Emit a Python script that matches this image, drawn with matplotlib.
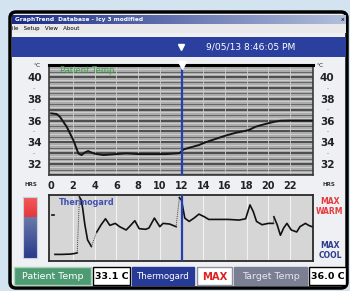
import numpy as np
import matplotlib
matplotlib.use('Agg')
import matplotlib.pyplot as plt
from matplotlib.patches import Rectangle, FancyBboxPatch

# ---------------- data ----------------
hour_ticks = [0, 2, 4, 6, 8, 10, 12, 14, 16, 18, 20, 22]
temp_ticks = [32, 34, 36, 38, 40]
temp_minor = [33, 35, 37, 39]

patient_h = [0.0, 0.5, 0.8, 1.43, 2.04, 2.5, 2.8, 3.1, 3.4, 3.9, 4.8, 6.0, 6.9, 8.1,
             9.3, 10.55, 11.8, 12.2, 12.7, 13.6, 14.2, 15.1, 16.0, 17.0, 18.2, 18.8,
             19.7, 20.6, 21.1, 21.9, 23.65, 24.0]
patient_t = [36.66, 36.6, 36.35, 35.43, 34.2, 32.98, 32.83, 33.07, 33.2, 32.98, 32.83,
             32.92, 32.98, 32.92, 32.92, 32.92, 33.0, 33.35, 33.5, 33.75, 34.0, 34.3,
             34.6, 34.88, 35.13, 35.43, 35.68, 35.9, 35.98, 36.0, 36.0, 36.0]

# Thermogard output (0 = max cool, 100 = max warm), solid segments
tg_seg_h = [
    [0.1, 0.3],
    [0.35, 1.0, 1.8, 2.2, 2.4],
    [2.6, 2.75, 2.9, 3.1, 3.35, 3.7],
    [4.2, 4.6, 5.0, 5.4, 5.9, 6.3, 6.9, 7.2, 7.7, 8.1, 8.7, 9.0, 9.5, 10.0, 10.3, 10.9, 11.5],
    [11.8, 12.0, 12.3, 12.7, 13.15, 13.6, 14.1, 14.5, 15.4, 16.3, 17.3, 17.9, 18.3, 18.6,
     18.9, 19.4, 20.0, 20.45],
    [20.5, 20.8, 21.1, 21.4, 21.7, 22.1, 22.6, 22.9, 23.4, 23.7, 24.0],
]
tg_seg_v = [
    [70, 70],
    [10, 10, 10.5, 11.5, 12.5],
    [97, 93, 80, 55, 32, 22],
    [44, 55, 64, 54, 57, 52, 47, 52, 61, 49, 48, 50, 65, 52, 57, 56, 52],
    [96, 92, 65, 60, 65, 71, 67, 63, 63, 63, 62, 64, 85, 75, 60, 55, 57, 57],
    [67, 55, 39, 50, 57, 47, 44, 52, 57, 54, 52],
]
marker_hour = 12
status_labels = ["Patient Temp", "33.1 C", "Thermogard", "MAX", "Target Temp", "36.0 C"]
date_text = "9/05/13 8:46:05 PM"

# ---------------- layout helpers ----------------
W, H = 350, 291
def rect(x0, y0, x1, y1):
    return [x0 / W, 1 - y1 / H, (x1 - x0) / W, (y1 - y0) / H]

fig = plt.figure(figsize=(W / 100, H / 100), dpi=100)
bg = fig.add_axes([0, 0, 1, 1])
bg.axis('off')

# outer desktop background
bg.add_patch(Rectangle((0, 0), W, H, fc='#d3e3f0', ec='none'))
# window
bg.add_patch(FancyBboxPatch((10, 12), 337, 276, boxstyle="round,pad=0,rounding_size=6",
                            fc='#eef0f4', ec='black', lw=2.5))
# title bar gradient
grad = np.linspace(0, 1, 200)
c0 = np.array([0.10, 0.17, 0.52]); c1 = np.array([0.70, 0.75, 0.86])
tb = (c0[None, :] * (1 - grad[:, None]) + c1[None, :] * grad[:, None])[None, :, :]
bg.imshow(tb, extent=(12, 346, 24, 15), aspect='auto', zorder=2)
bg.text(15, 19.5, "GraphTrend  Database - Icy 3 modified", color='white', fontsize=4.2,
        fontweight='bold', va='center', ha='left', zorder=3)
bg.text(343, 19.5, "x", color='black', fontsize=4.5, va='center', ha='center', zorder=3)
# menu bar
bg.add_patch(Rectangle((12, 24), 334, 9, fc='#e9e9ec', ec='none', zorder=2))
bg.text(12, 28.5, "ile   Setup   View   About", color='black', fontsize=4, va='center',
        ha='left', zorder=3)
# header bar
bg.add_patch(Rectangle((12, 37), 334, 20, fc='#2b3f9e', ec='none', zorder=2))
bg.plot([181], [47], marker='v', ms=5, color='white', zorder=3)
bg.text(251, 47, date_text, color='white', fontsize=6.6, va='center', ha='center', zorder=3)

# color bar (warm/cool)
n = 61
cb = np.zeros((n, 1, 3))
for i in range(n):
    if i < 20:
        t = i / 19
        cb[i, 0] = np.array([0.95, 0.35, 0.35]) * (1 - t) + np.array([0.90, 0.22, 0.24]) * t
    else:
        t = (i - 20) / (n - 21)
        cb[i, 0] = np.array([0.42, 0.47, 0.66]) * (1 - t) + np.array([0.16, 0.23, 0.55]) * t
bg.imshow(cb, extent=(23, 37, 258, 197), aspect='auto', zorder=2)
bg.add_patch(Rectangle((23, 197), 14, 61, fc='none', ec='#c8d0dc', lw=0.8, zorder=3))

# text around plots
bg.text(37, 65.5, "°C", fontsize=4.2, ha='center', va='center', color='#222222')
bg.text(320, 65.5, "°C", fontsize=4.2, ha='center', va='center', color='#222222')
bg.text(31, 184.5, "HRS", fontsize=4, fontweight='bold', ha='center', va='center', color='#333333')
bg.text(329, 184.5, "HRS", fontsize=4, fontweight='bold', ha='center', va='center', color='#333333')
bg.text(330, 202, "MAX", fontsize=5.5, fontweight='bold', ha='center', va='center', color='#e83a3a')
bg.text(330, 212, "WARM", fontsize=5.5, fontweight='bold', ha='center', va='center', color='#e83a3a')
bg.text(330, 246, "MAX", fontsize=5.5, fontweight='bold', ha='center', va='center', color='#2f3d8c')
bg.text(330, 256, "COOL", fontsize=5.5, fontweight='bold', ha='center', va='center', color='#2f3d8c')

# status bar
boxes = [(14, 91, '#4e9a72', 'white', 'normal', 6.8, '#a8d4b8'),
         (93, 130, 'white', 'black', 'bold', 6.8, 'black'),
         (132, 194, '#263a96', 'white', 'normal', 6.2, '#263a96'),
         (197, 232, 'white', '#e02020', 'bold', 7.2, '#9090a0'),
         (234, 307, '#7a7f93', '#e6e8ee', 'normal', 6.8, '#7a7f93'),
         (309, 346, 'white', 'black', 'bold', 6.8, 'black')]
for (x0, x1, fc, tc, fw, fs, ec), lab in zip(boxes, status_labels):
    bg.add_patch(Rectangle((x0, 267), x1 - x0, 18, fc=fc, ec=ec, lw=1.0, zorder=2))
    bg.text((x0 + x1) / 2, 276.5, lab, color=tc, fontweight=fw, fontsize=fs,
            ha='center', va='center', zorder=3)

bg.set_xlim(0, W)
bg.set_ylim(H, 0)

# ---------------- main temperature plot ----------------
ax = fig.add_axes(rect(49, 65, 313, 175))
ax.set_facecolor('#ababab')
ax.set_xlim(-0.2, 24.1)
ax.set_ylim(31, 41.1)
for y in np.arange(31.0, 41.1, 0.5):
    whole = abs(y - round(y)) < 1e-6
    ax.axhline(y, color='#333333' if whole else '#5a5a5a', lw=1.1 if whole else 0.6, zorder=1)
for y in np.arange(31.25, 41.1, 0.5):
    ax.axhline(y, color='#d4d4d4', lw=0.6, zorder=1)
for h in hour_ticks[1:]:
    ax.axvline(h, color='#cdcdcd', lw=0.6, zorder=1)
ax.plot(patient_h, patient_t, color='#151515', lw=1.4, zorder=3)
ax.axvline(marker_hour, color='#2340b0', lw=1.6, zorder=4)
ax.plot([marker_hour], [41.1], marker='v', ms=6, color='white', clip_on=False, zorder=6)
ax.text(0.8, 40.55, "Patient Temp", color='#3aa048', fontsize=6, ha='left', va='center', zorder=5)

ax.set_yticks(temp_ticks)
ax.set_yticklabels([str(t) for t in temp_ticks])
ax.set_yticks(temp_minor, labels=['-'] * len(temp_minor), minor=True)
ax.tick_params(axis='y', which='major', length=0, pad=5, labelsize=7.5, labelright=True,
               labelcolor='#222222')
ax.tick_params(axis='y', which='minor', length=0, pad=10, labelsize=4, labelright=True,
               labelcolor='#555555')
for lab in ax.get_yticklabels():
    lab.set_fontweight('bold')
ax.set_xticks(hour_ticks)
ax.set_xticklabels([str(h) for h in hour_ticks])
ax.tick_params(axis='x', length=0, pad=4, labelsize=7, labelcolor='#222222')
for lab in ax.get_xticklabels():
    lab.set_fontweight('bold')
for s in ['left', 'right', 'bottom']:
    ax.spines[s].set_color('#3a3a3a'); ax.spines[s].set_linewidth(1.2)
ax.spines['top'].set_color('black'); ax.spines['top'].set_linewidth(2.2)

# ---------------- Thermogard plot ----------------
ax2 = fig.add_axes(rect(49, 195, 313, 261))
ax2.set_facecolor('#d6d6d6')
ax2.set_xlim(-0.2, 24.1)
ax2.set_ylim(0, 100)
for h in hour_ticks[1:]:
    ax2.axvline(h, color='#f2f2f2', lw=0.8, zorder=1)
for hs, vs in zip(tg_seg_h, tg_seg_v):
    ax2.plot(hs, vs, color='#111111', lw=1.2, zorder=3)
for i in range(2, len(tg_seg_h)):
    ax2.plot([tg_seg_h[i - 1][-1], tg_seg_h[i][0]], [tg_seg_v[i - 1][-1], tg_seg_v[i][0]],
             color='#444444', lw=0.7, ls=(0, (1, 1)), zorder=3)
ax2.axvline(marker_hour, color='#2340b0', lw=1.6, zorder=4)
ax2.text(0.7, 88, "Thermogard", color='#4050b0', fontsize=5.8, fontweight='bold',
         ha='left', va='center', zorder=5)
ax2.set_xticks([]); ax2.set_yticks([])
for s in ax2.spines.values():
    s.set_color('#2a2a2a'); s.set_linewidth(1.3)

fig.savefig('out.png', dpi=100)
